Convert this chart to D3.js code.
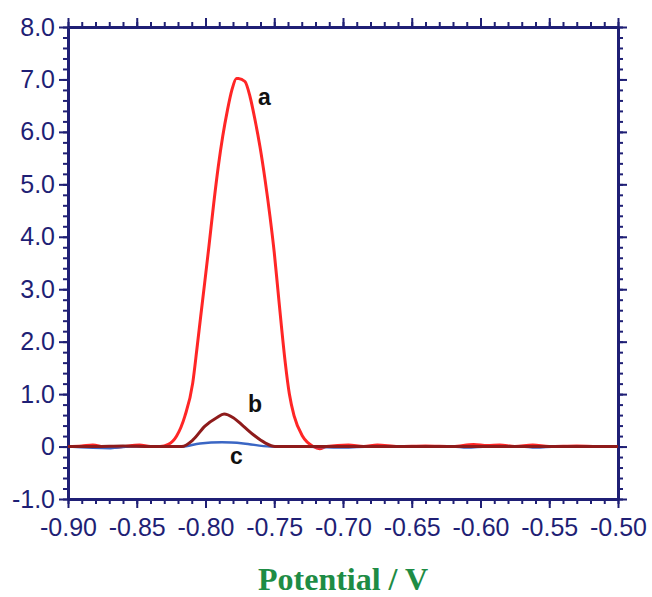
<!DOCTYPE html>
<html lang="en">
<head>
<meta charset="utf-8">
<title>Potential / V</title>
<script src="https://cdn.jsdelivr.net/npm/d3@7"></script>
<style>
  body { margin: 0; background: #fff; }
</style>
</head>
<body>
<script>
// curve a
var aPotential = [-0.900, -0.890, -0.882, -0.875, -0.869, -0.860, -0.848, -0.840, -0.833, -0.827, -0.821, -0.815, -0.8093, -0.8063, -0.8035, -0.8006, -0.7975, -0.7940, -0.7907, -0.7875, -0.7840, -0.7808, -0.7775, -0.7760, -0.7713, -0.7676, -0.7640, -0.7604, -0.7567, -0.7531, -0.7500, -0.7474, -0.7448, -0.7420, -0.7390, -0.7355, -0.7295, -0.7216, -0.717, -0.712, -0.696, -0.685, -0.675, -0.660, -0.640, -0.620, -0.605, -0.595, -0.586, -0.575, -0.562, -0.550, -0.530, -0.515, -0.500];
var aCurrent = [0.00, 0.01, 0.03, 0.00, -0.02, 0.00, 0.03, 0.00, 0.00, 0.04, 0.20, 0.58, 1.21, 1.85, 2.48, 3.12, 3.82, 4.64, 5.34, 5.91, 6.42, 6.80, 7.02, 7.02, 6.96, 6.67, 6.23, 5.72, 5.09, 4.39, 3.70, 3.00, 2.30, 1.60, 1.00, 0.58, 0.20, 0.00, -0.04, 0.00, 0.03, 0.00, 0.03, 0.00, 0.01, 0.00, 0.04, 0.02, 0.03, 0.00, 0.03, 0.00, 0.01, 0.00, 0.00];
// curve b
var bPotential = [-0.900, -0.880, -0.860, -0.840, -0.8173, -0.809, -0.8004, -0.7919, -0.7865, -0.7798, -0.7725, -0.764, -0.7567, -0.7495, -0.720, -0.700, -0.650, -0.600, -0.550, -0.500];
var bCurrent = [0.00, 0.00, 0.01, 0.00, 0.00, 0.13, 0.39, 0.55, 0.62, 0.55, 0.39, 0.20, 0.07, 0.00, 0.00, 0.00, 0.00, 0.00, 0.00, 0.00];
// curve c
var cPotential = [-0.900, -0.869, -0.855, -0.8173, -0.804, -0.788, -0.7725, -0.753, -0.733, -0.700, -0.680, -0.620, -0.610, -0.595, -0.570, -0.560, -0.545, -0.500];
var cCurrent = [0.00, -0.03, 0.00, 0.00, 0.06, 0.08, 0.06, 0.00, 0.00, -0.02, 0.00, 0.00, -0.02, 0.00, 0.00, -0.02, 0.00, 0.00];

var xMajor = [-0.90, -0.85, -0.80, -0.75, -0.70, -0.65, -0.60, -0.55, -0.50];
var yMajor = [-1, 0, 1, 2, 3, 4, 5, 6, 7, 8];

var w = 652, h = 597;
var mLeft = 68, mRight = 618, mTop = 27, mBottom = 499;
var axisColor = "#1f1f75";

var svg = d3.select("body").append("svg")
  .attr("width", w)
  .attr("height", h);

var x = d3.scaleLinear().domain([-0.9, -0.5]).range([mLeft, mRight]);
var y = d3.scaleLinear().domain([-1, 8]).range([mBottom, mTop]);

var xMinor = d3.range(0, 41).map(function(i) { return -0.9 + i * 0.01; });
var yMinor = d3.range(0, 46).map(function(i) { return -1 + i * 0.2; });

function styleAxis(g) {
  g.selectAll("path").attr("stroke", axisColor).attr("stroke-width", 3);
  g.selectAll("line").attr("stroke", axisColor).attr("stroke-width", 2);
  g.selectAll("text").attr("fill", axisColor)
    .attr("font-family", "Liberation Sans, Arial, sans-serif")
    .attr("font-size", "25px");
}

// bottom
svg.append("g").attr("transform", "translate(0," + mBottom + ")")
  .call(d3.axisBottom(x).tickValues(xMinor).tickSize(5).tickFormat("").tickSizeOuter(0))
  .call(styleAxis);
svg.append("g").attr("transform", "translate(0," + mBottom + ")")
  .call(d3.axisBottom(x).tickValues(xMajor).tickSize(9).tickPadding(10).tickSizeOuter(0)
    .tickFormat(function(d) { return d.toFixed(2); }))
  .call(styleAxis);
// top
svg.append("g").attr("transform", "translate(0," + mTop + ")")
  .call(d3.axisTop(x).tickValues(xMinor).tickSize(5).tickFormat("").tickSizeOuter(0))
  .call(styleAxis);
svg.append("g").attr("transform", "translate(0," + mTop + ")")
  .call(d3.axisTop(x).tickValues(xMajor).tickSize(9).tickFormat("").tickSizeOuter(0))
  .call(styleAxis);
// left
svg.append("g").attr("transform", "translate(" + mLeft + ",0)")
  .call(d3.axisLeft(y).tickValues(yMinor).tickSize(5).tickFormat("").tickSizeOuter(0))
  .call(styleAxis);
svg.append("g").attr("transform", "translate(" + mLeft + ",0)")
  .call(d3.axisLeft(y).tickValues(yMajor).tickSize(9).tickPadding(4).tickSizeOuter(0)
    .tickFormat(function(d) { return d === 0 ? "0" : d.toFixed(1); }))
  .call(styleAxis);
// right
svg.append("g").attr("transform", "translate(" + mRight + ",0)")
  .call(d3.axisRight(y).tickValues(yMinor).tickSize(5).tickFormat("").tickSizeOuter(0))
  .call(styleAxis);
svg.append("g").attr("transform", "translate(" + mRight + ",0)")
  .call(d3.axisRight(y).tickValues(yMajor).tickSize(9).tickFormat("").tickSizeOuter(0))
  .call(styleAxis);

var line = d3.line()
  .x(function(d) { return x(d[0]); })
  .y(function(d) { return y(d[1]); })
  .curve(d3.curveMonotoneX);

var curves = [
  { p: aPotential, v: aCurrent, color: "#ff2626", width: 3 },
  { p: cPotential, v: cCurrent, color: "#3a66c4", width: 2.5 },
  { p: bPotential, v: bCurrent, color: "#8e1b1b", width: 3 }
];

curves.forEach(function(c) {
  svg.append("path")
    .datum(d3.zip(c.p, c.v))
    .attr("fill", "none")
    .attr("stroke", c.color)
    .attr("stroke-width", c.width)
    .attr("stroke-linejoin", "round")
    .attr("d", line);
});

// curve labels
var labels = [["a", 258, 105], ["b", 248, 412], ["c", 230, 464]];
svg.selectAll("text.lab").data(labels)
  .enter().append("text")
  .attr("class", "lab")
  .attr("x", function(d) { return d[1]; })
  .attr("y", function(d) { return d[2]; })
  .attr("font-family", "Liberation Sans, Arial, sans-serif")
  .attr("font-weight", "bold")
  .attr("font-size", "23px")
  .attr("fill", "#111")
  .text(function(d) { return d[0]; });

svg.append("text")
  .attr("x", 343)
  .attr("y", 590)
  .attr("text-anchor", "middle")
  .attr("font-family", "Liberation Serif, Times New Roman, serif")
  .attr("font-weight", "bold")
  .attr("font-size", "32px")
  .attr("fill", "#1e8c45")
  .text("Potential / V");
</script>
</body>
</html>
